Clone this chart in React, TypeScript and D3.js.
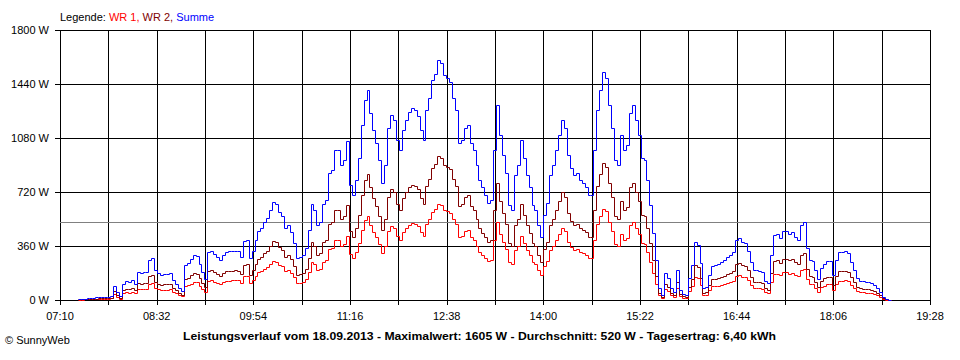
import React from "react";
import * as d3 from "d3";

// SunnyWeb daily power curve, 18.09.2013, samples every 2.5 min from 07:25
const startTime = "07:25";
const stepMinutes = 2.5;

const summe = [
  7, 8, 10, 12, 13, 15, 17, 18, 20, 22, 23, 27, 95, 55, 25, 110, 127, 120, 133, 110,
  187, 180, 187, 190, 267, 280, 200, 180, 167, 175, 173, 180, 133, 110, 80, 60, 233, 245, 273, 300,
  293, 240, 187, 140, 320, 330, 307, 290, 267, 300, 320, 325, 327, 330, 327, 290, 393, 400, 280, 330,
  400, 460, 480, 520, 547, 600, 653, 640, 587, 560, 480, 500, 453, 380, 280, 290, 300, 350, 467, 640,
  600, 500, 520, 640, 667, 850, 867, 1000, 1000, 900, 933, 1060, 767, 700, 800, 950, 1167, 1330, 1400, 1250,
  1133, 1050, 933, 780, 900, 1150, 1233, 1200, 1067, 1000, 1133, 1200, 1253, 1280, 1267, 1230, 1133, 1070, 1267, 1350,
  1467, 1510, 1600, 1580, 1500, 1480, 1453, 1350, 1267, 1050, 1067, 1150, 1167, 1050, 1000, 900, 800, 750, 700, 650,
  667, 1000, 1300, 1100, 967, 850, 633, 600, 833, 900, 1067, 950, 833, 750, 633, 600, 500, 420, 567, 650,
  833, 900, 1000, 1100, 1200, 1150, 967, 880, 833, 850, 800, 780, 753, 700, 700, 1000, 1267, 1400, 1520, 1480,
  1300, 1150, 933, 900, 1100, 1000, 1033, 1250, 1300, 1200, 1100, 950, 933, 800, 633, 450, 267, 80, 33, 180,
  147, 80, 53, 200, 67, 40, 33, 150, 233, 390, 367, 250, 80, 90, 167, 230, 233, 240, 253, 270,
  287, 300, 320, 400, 413, 390, 380, 330, 253, 200, 200, 195, 187, 130, 113, 300, 433, 440, 413, 460,
  460, 440, 453, 420, 400, 500, 520, 350, 267, 260, 200, 140, 213, 240, 260, 260, 167, 270, 320, 320,
  327, 310, 253, 200, 147, 130, 127, 120, 120, 115, 100, 80, 53, 20, 7, 3, 0,
];

const wr2 = [
  4, 5, 6, 7, 8, 9, 10, 11, 12, 13, 14, 16, 57, 33, 15, 66, 76, 72, 80, 66,
  112, 108, 112, 114, 160, 168, 120, 108, 100, 105, 104, 108, 80, 66, 48, 36, 140, 147, 164, 180,
  176, 144, 112, 84, 192, 198, 184, 174, 160, 180, 192, 195, 196, 198, 196, 174, 236, 240, 168, 198,
  240, 276, 288, 312, 328, 360, 392, 384, 352, 336, 288, 300, 272, 228, 168, 174, 180, 210, 280, 384,
  360, 300, 312, 384, 400, 510, 520, 600, 600, 540, 560, 636, 460, 420, 480, 570, 700, 798, 840, 750,
  680, 630, 560, 468, 540, 690, 740, 720, 640, 600, 680, 720, 752, 768, 760, 738, 680, 642, 760, 810,
  880, 906, 960, 948, 900, 888, 872, 810, 760, 630, 640, 690, 700, 630, 600, 540, 480, 450, 420, 390,
  400, 600, 780, 660, 580, 510, 380, 360, 500, 540, 640, 570, 500, 450, 380, 360, 300, 252, 340, 390,
  500, 540, 600, 660, 720, 690, 580, 528, 500, 510, 480, 468, 452, 420, 420, 600, 760, 840, 912, 888,
  780, 690, 560, 540, 660, 600, 620, 750, 780, 720, 660, 570, 560, 480, 380, 270, 160, 48, 20, 108,
  88, 48, 32, 120, 40, 24, 20, 90, 140, 234, 220, 150, 48, 54, 100, 138, 140, 144, 152, 162,
  172, 180, 192, 240, 248, 234, 228, 198, 152, 120, 120, 117, 112, 78, 68, 180, 260, 264, 248, 276,
  276, 264, 272, 252, 240, 300, 312, 210, 160, 156, 120, 84, 128, 144, 156, 156, 100, 162, 192, 192,
  196, 186, 152, 120, 88, 78, 76, 72, 72, 69, 60, 48, 32, 12, 4, 2, 0,
];

const wr1 = [
  3, 3, 4, 5, 5, 6, 7, 7, 8, 9, 9, 11, 38, 22, 10, 44, 51, 48, 53, 44,
  75, 72, 75, 76, 107, 112, 80, 72, 67, 70, 69, 72, 53, 44, 32, 24, 93, 98, 109, 120,
  117, 96, 75, 56, 128, 132, 123, 116, 107, 120, 128, 130, 131, 132, 131, 116, 157, 160, 112, 132,
  160, 184, 192, 208, 219, 240, 261, 256, 235, 224, 192, 200, 181, 152, 112, 116, 120, 140, 187, 256,
  240, 200, 208, 256, 267, 340, 347, 400, 400, 360, 373, 424, 307, 280, 320, 380, 467, 532, 560, 500,
  453, 420, 373, 312, 360, 460, 493, 480, 427, 400, 453, 480, 501, 512, 507, 492, 453, 428, 507, 540,
  587, 604, 640, 632, 600, 592, 581, 540, 507, 420, 427, 460, 467, 420, 400, 360, 320, 300, 280, 260,
  267, 400, 520, 440, 387, 340, 253, 240, 333, 360, 427, 380, 333, 300, 253, 240, 200, 168, 227, 260,
  333, 360, 400, 440, 480, 460, 387, 352, 333, 340, 320, 312, 301, 280, 280, 400, 507, 560, 608, 592,
  520, 460, 373, 360, 440, 400, 413, 500, 520, 480, 440, 380, 373, 320, 253, 180, 107, 32, 13, 72,
  59, 32, 21, 80, 27, 16, 13, 60, 93, 156, 147, 100, 32, 36, 67, 92, 93, 96, 101, 108,
  115, 120, 128, 160, 165, 156, 152, 132, 101, 80, 80, 78, 75, 52, 45, 120, 173, 176, 165, 184,
  184, 176, 181, 168, 160, 200, 208, 140, 107, 104, 80, 56, 85, 96, 104, 104, 67, 108, 128, 128,
  131, 124, 101, 80, 59, 52, 51, 48, 48, 46, 40, 32, 21, 8, 3, 1, 0,
];

const xTickLabels = ["07:10", "08:32", "09:54", "11:16", "12:38", "14:00", "15:22", "16:44", "18:06", "19:28"];
const yTicks = [0, 360, 720, 1080, 1440, 1800];
const average = 520;
const title =
  "Leistungsverlauf vom 18.09.2013 - Maximalwert: 1605 W - Durchschnitt: 520 W - Tagesertrag: 6,40 kWh";

const toMin = (s: string) => {
  const [h, m] = s.split(":").map(Number);
  return h * 60 + m;
};

export default function App() {
  const width = 960;
  const height = 360;
  const left = 60;
  const right = 930;
  const top = 30;
  const bottom = 300;
  const font = "'Liberation Sans', Arial, sans-serif";

  const x = d3
    .scaleLinear()
    .domain([toMin(xTickLabels[0]), toMin(xTickLabels[xTickLabels.length - 1])])
    .range([left, right]);
  const y = d3.scaleLinear().domain([0, 1800]).range([bottom, top]);

  // snap to pixel centres so 1px strokes stay sharp
  const px = (v: number) => Math.round(v) + 0.5;

  const t0 = toMin(startTime);
  const line = d3
    .line<number>()
    .x((_, i) => px(x(t0 + i * stepMinutes)))
    .y((d) => px(y(d)))
    .curve(d3.curveStepAfter);

  // gridlines every half label step (41 min)
  const gridStep = (toMin(xTickLabels[1]) - toMin(xTickLabels[0])) / 2;
  const gridTimes = d3.range(toMin(xTickLabels[0]), toMin(xTickLabels[xTickLabels.length - 1]) + 1, gridStep);

  return (
    <svg width={width} height={height} style={{ display: "block", position: "absolute", left: 0, top: 0, background: "#fff" }}>
      <rect width={width} height={height} fill="#fff" />

      {/* legend */}
      <text x={60} y={20.5} fontFamily={font} fontSize={11} fill="#000">
        Legende: <tspan fill="#ff0000">WR 1,</tspan> <tspan fill="#800000">WR 2,</tspan>{" "}
        <tspan fill="#0000ff">Summe</tspan>
      </text>

      {/* horizontal grid + y labels */}
      {yTicks.map((t) => (
        <g key={t}>
          <line x1={left - 5} x2={right} y1={px(y(t))} y2={px(y(t))} stroke="#000" />
          <text x={49} y={y(t) + 4} textAnchor="end" fontFamily={font} fontSize={11} fill="#000">
            {t} W
          </text>
        </g>
      ))}

      {/* vertical grid */}
      {gridTimes.map((t) => (
        <line key={t} x1={px(x(t))} x2={px(x(t))} y1={top} y2={bottom + 5} stroke="#000" />
      ))}

      {xTickLabels.map((l) => (
        <text key={l} x={x(toMin(l))} y={320} textAnchor="middle" fontFamily={font} fontSize={11} fill="#000">
          {l}
        </text>
      ))}

      {/* average */}
      <line x1={left} x2={right} y1={px(y(average))} y2={px(y(average))} stroke="#808080" />

      {/* series */}
      <path d={line(wr1) || ""} fill="none" stroke="#ff0000" strokeWidth={1} />
      <path d={line(wr2) || ""} fill="none" stroke="#800000" strokeWidth={1} />
      <path d={line(summe) || ""} fill="none" stroke="#0000ff" strokeWidth={1} />

      <text
        x={183}
        y={339.5}
        fontFamily={font}
        fontSize={11}
        fontWeight="bold"
        fill="#000"
        textLength={593}
        lengthAdjust="spacingAndGlyphs"
      >
        {title}
      </text>

      <text x={5} y={344} fontFamily={font} fontSize={11} fill="#000">
        © SunnyWeb
      </text>
    </svg>
  );
}
